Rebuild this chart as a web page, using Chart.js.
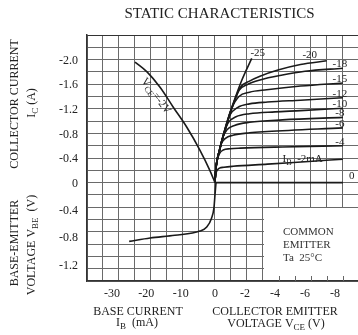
<!DOCTYPE html>
<html>
<head>
<meta charset="utf-8">
<script src="https://cdn.jsdelivr.net/npm/chart.js@4/dist/chart.umd.min.js"></script>
<style>
  body { margin: 0; background: #fff; }
  #contenedor { width: 358px; height: 335px; }
</style>
</head>
<body>
<div id="contenedor"><canvas id="grafica" width="358" height="335"></canvas></div>
<script>
// Curva IC vs IB con VCE = -2V (cuadrante superior izquierdo)
const ibVce2 = [-23.3, -19.8, -16.0, -12.2, -8.2, -4.4, -1.5, 0];
const icVce2 = [-1.96, -1.80, -1.55, -1.23, -0.90, -0.53, -0.20, 0];

// Curva VBE vs IB (cuadrante inferior izquierdo)
const ibVbe = [-25.0, -18.9, -11.7, -4.4, -2.4, -1.0, -0.3, 0, 0.3];
const vbeVbe = [-0.86, -0.81, -0.77, -0.71, -0.65, -0.52, -0.37, -0.18, 0];

// Familia IC vs VCE para cada IB (cuadrante superior derecho)
const etiquetasIB = ['-25', '-20', '-18', '-15', '-12', '-10', '-8', '-6', '-4', '-2', '0'];
const vceIb25 = [0, -0.05, -0.33, -0.78, -1.22, -1.78, -2.45];
const icIb25 = [0, -0.2, -0.55, -0.97, -1.29, -1.66, -2.02];
const vceIb20 = [0, -0.05, -0.33, -0.78, -1.22, -1.7, -2.3, -3.0, -4.2, -5.7, -7.45];
const icIb20 = [0, -0.2, -0.55, -0.96, -1.28, -1.55, -1.65, -1.73, -1.83, -1.92, -1.98];
const vceIb18 = [0, -0.05, -0.33, -0.78, -1.2, -1.6, -2.2, -3.0, -4.5, -6.0, -8.53];
const icIb18 = [0, -0.2, -0.55, -0.95, -1.26, -1.5, -1.6, -1.67, -1.75, -1.81, -1.86];
const vceIb15 = [0, -0.05, -0.33, -0.78, -1.1, -1.6, -2.3, -3.45, -5.7, -8.53];
const icIb15 = [0, -0.2, -0.55, -0.94, -1.2, -1.4, -1.47, -1.51, -1.57, -1.62];
const vceIb12 = [0, -0.05, -0.33, -0.7, -1.0, -1.5, -2.3, -3.5, -5.7, -8.53];
const icIb12 = [0, -0.2, -0.55, -0.88, -1.1, -1.22, -1.28, -1.31, -1.34, -1.38];
const vceIb10 = [0, -0.05, -0.3, -0.6, -0.9, -1.4, -2.3, -4.0, -5.7, -8.53];
const icIb10 = [0, -0.2, -0.52, -0.8, -0.98, -1.07, -1.12, -1.15, -1.17, -1.21];
const vceIb8 = [0, -0.05, -0.25, -0.5, -0.8, -1.3, -2.3, -4.5, -8.53];
const icIb8 = [0, -0.2, -0.47, -0.72, -0.86, -0.93, -0.98, -1.02, -1.06];
const vceIb6 = [0, -0.05, -0.2, -0.4, -0.7, -1.2, -2.3, -3.5, -8.53];
const icIb6 = [0, -0.2, -0.42, -0.62, -0.72, -0.77, -0.81, -0.83, -0.89];
const vceIb4 = [0, -0.05, -0.15, -0.3, -0.55, -1.0, -1.7, -4.5, -8.53];
const icIb4 = [0, -0.18, -0.36, -0.47, -0.53, -0.55, -0.56, -0.58, -0.60];
const vceIb2 = [0, -0.03, -0.12, -0.3, -0.6, -1.2, -3.5, -6.0, -8.53];
const icIb2 = [0, -0.1, -0.19, -0.235, -0.25, -0.265, -0.3, -0.34, -0.38];
const vceIb0 = [0, -8.53];
const icIb0 = [0, 0];

// Marcas de los ejes
const ticksIB = [-30, -20, -10, 0];
const ticksVCE = [-2, -4, -6, -8];
const ticksIC = [-2.0, -1.6, -1.2, -0.8, -0.4, 0];
const ticksVBE = [-0.4, -0.8, -1.2];

const familiaVce = [vceIb25, vceIb20, vceIb18, vceIb15, vceIb12, vceIb10, vceIb8, vceIb6, vceIb4, vceIb2, vceIb0];
const familiaIc = [icIb25, icIb20, icIb18, icIb15, icIb12, icIb10, icIb8, icIb6, icIb4, icIb2, icIb0];

const FUENTE = '"Liberation Serif", "Times New Roman", serif';

function puntos(xs, ys) {
    return xs.map((x, i) => ({ x: x, y: ys[i] }));
}

const datasets = [
    { data: puntos(ibVce2, icVce2), xAxisID: 'xIB', yAxisID: 'yIC' },
    { data: puntos(ibVbe, vbeVbe), xAxisID: 'xIB', yAxisID: 'yVBE' }
];
familiaVce.forEach((vce, i) => {
    datasets.push({ data: puntos(vce, familiaIc[i]), xAxisID: 'xVCE', yAxisID: 'yIC' });
});

// escribe texto con partes en subindice, centrado o a la izquierda
function textoSub(ctx, partes, x, y, tam, alinear) {
    let ancho = 0;
    partes.forEach(([t, sub]) => {
        ctx.font = (sub ? tam * 0.75 : tam) + 'px ' + FUENTE;
        ancho += ctx.measureText(t).width;
    });
    let cx = alinear === 'center' ? x - ancho / 2 : x;
    ctx.textAlign = 'left';
    partes.forEach(([t, sub]) => {
        ctx.font = (sub ? tam * 0.75 : tam) + 'px ' + FUENTE;
        ctx.fillText(t, cx, sub ? y + tam * 0.3 : y);
        cx += ctx.measureText(t).width;
    });
}

const textos = {
    id: 'textos',
    beforeDatasetsDraw(chart) {
        const { ctx, chartArea, scales } = chart;
        const xg = scales.xg, yg = scales.yg;
        // recuadro blanco de "COMMON EMITTER"
        const x0 = Math.round(xg.getPixelForValue(3)) + 1;
        const y0 = Math.round(yg.getPixelForValue(-2)) + 1;
        ctx.save();
        ctx.fillStyle = '#fff';
        ctx.fillRect(x0, y0, chartArea.right - x0 + 2, chartArea.bottom - y0 - 1);
        ctx.strokeStyle = '#666';
        ctx.lineWidth = 1;
        for (let c = 4; c <= 8; c++) {
            const px = Math.round(xg.getPixelForValue(c)) + 0.5;
            ctx.beginPath();
            ctx.moveTo(px, chartArea.bottom);
            ctx.lineTo(px, chartArea.bottom - 5);
            ctx.stroke();
        }
        ctx.restore();
    },
    afterDraw(chart) {
        const { ctx, chartArea, scales } = chart;
        const { xIB, xVCE, yIC, yVBE, xg, yg } = scales;
        ctx.save();
        ctx.fillStyle = '#222';
        ctx.textBaseline = 'middle';

        ctx.font = '15px ' + FUENTE;
        ctx.textAlign = 'center';
        ctx.fillText('STATIC CHARACTERISTICS', (chartArea.left + chartArea.right) / 2 - 3, 14);

        // etiquetas del eje x
        ctx.font = '12px ' + FUENTE;
        const yTick = chartArea.bottom + 13;
        ticksIB.forEach(v => ctx.fillText(String(v), xIB.getPixelForValue(v), yTick));
        ticksVCE.forEach(v => ctx.fillText(String(v), xVCE.getPixelForValue(v), yTick));

        // etiquetas del eje y
        ctx.textAlign = 'right';
        const xTick = chartArea.left - 9;
        ticksIC.forEach(v => ctx.fillText(v === 0 ? '0' : v.toFixed(1), xTick, yIC.getPixelForValue(v) + 1));
        ticksVBE.forEach(v => ctx.fillText(v.toFixed(1), xTick, yVBE.getPixelForValue(v) + 1));

        // titulos de ejes x
        ctx.textAlign = 'center';
        ctx.font = '12px ' + FUENTE;
        ctx.fillText('BASE CURRENT', 138, 312);
        ctx.fillText('COLLECTOR EMITTER', 275, 312);
        textoSub(ctx, [['I', false], ['B', true], ['  (mA)', false]], 137, 323, 12, 'center');
        textoSub(ctx, [['VOLTAGE V', false], ['CE', true], [' (V)', false]], 276, 324, 12, 'center');

        // titulos de ejes y (girados)
        const girado = (x, y, fn) => {
            ctx.save();
            ctx.translate(x, y);
            ctx.rotate(-Math.PI / 2);
            fn();
            ctx.restore();
        };
        girado(15, 104, () => { ctx.font = '12px ' + FUENTE; ctx.textAlign = 'center'; ctx.fillText('COLLECTOR CURRENT', 0, 0); });
        girado(32, 103, () => textoSub(ctx, [['I', false], ['C', true], [' (A)', false]], 0, 0, 12, 'center'));
        girado(15, 243, () => { ctx.font = '12px ' + FUENTE; ctx.textAlign = 'center'; ctx.fillText('BASE-EMITTER', 0, 0); });
        girado(32, 245, () => textoSub(ctx, [['VOLTAGE V', false], ['BE', true], ['  (V)', false]], 0, 0, 12, 'center'));

        // etiquetas de las curvas IB
        ctx.font = '11px ' + FUENTE;
        ctx.textAlign = 'center';
        familiaVce.forEach((vce, i) => {
            const n = vce.length - 1;
            const px = xVCE.getPixelForValue(vce[n]);
            const py = yIC.getPixelForValue(familiaIc[i][n]);
            const et = etiquetasIB[i];
            if (et === '-25') ctx.fillText(et, px + 6, py - 5);
            else if (et === '-20') ctx.fillText(et, px - 17, py - 6);
            else if (et === '-2') textoSub(ctx, [['I', false], ['B', true], ['  -2mA', false]], xVCE.getPixelForValue(-4.5), yIC.getPixelForValue(-0.31) - 4, 11, 'left');
            else if (et === '0') ctx.fillText(et, px + 6, py - 6);
            else ctx.fillText(et, px - 3, py - 4);
        });

        // etiqueta VCE = -2V girada sobre la curva
        ctx.save();
        ctx.translate(xIB.getPixelForValue(-17.2), yIC.getPixelForValue(-1.41));
        ctx.rotate(53 * Math.PI / 180);
        textoSub(ctx, [['V', false], ['CE', true], ['=-2V', false]], 0, 0, 11, 'center');
        ctx.restore();

        // texto del recuadro
        ctx.fillStyle = '#333';
        ctx.font = '11px ' + FUENTE;
        ctx.textAlign = 'left';
        const xr = xg.getPixelForValue(3) + 20;
        const yr = yg.getPixelForValue(-4);
        ctx.fillText('COMMON', xr, yr);
        ctx.fillText('EMITTER', xr, yr + 13);
        ctx.fillText('Ta  25°C', xr, yr + 26);
        ctx.restore();
    }
};

const colorRejilla = ctx => (ctx.tick && ctx.tick.value === 12) ? '#333' : '#6a6a6a';

const ctx = document.getElementById('grafica').getContext('2d');
const miGrafica = new Chart(ctx, {
    type: 'scatter',
    data: { datasets: datasets.map(d => Object.assign(d, { showLine: true })) },
    options: {
        responsive: false,
        animation: false,
        layout: { padding: { left: 87, top: 35, right: 0, bottom: 54 } },
        plugins: { legend: { display: false }, tooltip: { enabled: false } },
        elements: {
            point: { radius: 0 },
            line: { borderColor: '#1a1a1a', borderWidth: 1.6, cubicInterpolationMode: 'monotone' }
        },
        scales: {
            xg: {
                type: 'linear', position: 'bottom', min: -8, max: 8.94,
                afterBuildTicks: eje => { eje.ticks = [-8, -7, -6, -5, -4, -3, -2, -1, 0, 1, 2, 3, 4, 5, 6, 7, 8].map(v => ({ value: v })); },
                grid: { color: '#6a6a6a', lineWidth: 1, drawTicks: false },
                border: { color: '#333', width: 1.5 },
                ticks: { display: false }
            },
            yg: {
                type: 'linear', position: 'left', min: -8, max: 12,
                afterBuildTicks: eje => { const t = []; for (let v = -8; v <= 12; v++) t.push({ value: v }); eje.ticks = t; },
                grid: { color: colorRejilla, lineWidth: 1, drawTicks: false },
                border: { color: '#333', width: 1.5 },
                ticks: { display: false }
            },
            xIB: { type: 'linear', display: false, min: -37.28, max: 41.66 },
            xVCE: { type: 'linear', display: false, reverse: true, min: -9.536, max: 8.533 },
            yIC: { type: 'linear', display: false, reverse: true, min: -2.4, max: 1.6 },
            yVBE: { type: 'linear', display: false, min: -1.44, max: 2.16 }
        }
    },
    plugins: [textos]
});
</script>
</body>
</html>
